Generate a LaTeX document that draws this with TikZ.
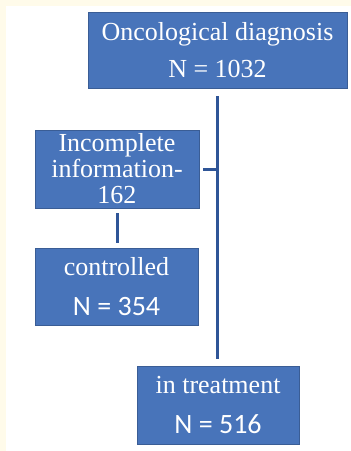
\documentclass[tikz,border=0pt]{standalone}
\usepackage{fontspec}
\setmainfont{Liberation Serif}
\newfontfamily\numfont{Carlito}
\usepackage{tikz}
\usetikzlibrary{
	positioning,
	calc
}
\definecolor{boxblue}{RGB}{72,116,186}
\definecolor{lineblue}{RGB}{47,85,151}
\definecolor{cream}{RGB}{255,251,234}
\tikzset{
	box/.style={
		draw=boxblue!80!black, line width=.6pt, fill=boxblue,
		text=white, align=center, inner sep=0pt,
		font=\fontsize{26}{26}\selectfont
	},
	link/.style={
		draw=lineblue, line width=3pt
	}
}
\newcommand{\nsans}[1]{{\numfont\fontsize{28}{26}\selectfont #1}}

\begin{document}
\begin{tikzpicture}[x=1pt,y=-1pt]
	% frame
	\fill[cream] (0,0) rectangle (351,451);
	\fill[white] (6,6) rectangle (351,451);
	\useasboundingbox (0,0) rectangle (351,451);

	\node[box,minimum width=259pt,minimum height=76pt] (diag)   at (217.5,50)
		{Oncological diagnosis\\[11pt] N = 1032};
	\node[box,minimum width=164pt,minimum height=78pt] (incomp) at (117,169)
		{Incomplete\\information-\\162};
	\node[box,minimum width=163pt,minimum height=77pt] (ctrl)   at (116.5,286.5)
		{controlled\\[14pt] \nsans{N = 354}};
	\node[box,minimum width=162pt,minimum height=78pt] (treat)  at (218,405)
		{in treatment\\[14pt] \nsans{N = 516}};

	% connectors
	\draw[link,shorten <=8pt,shorten >=7pt] (diag.south) -- (treat.north -| diag.south);
	\draw[link] ([xshift=4pt]incomp.east) -- ([xshift=1.5pt]incomp.east -| diag.south);
	\draw[link,shorten <=5pt,shorten >=5pt] (incomp.south) -- (ctrl.north -| incomp.south);
\end{tikzpicture}
\end{document}
